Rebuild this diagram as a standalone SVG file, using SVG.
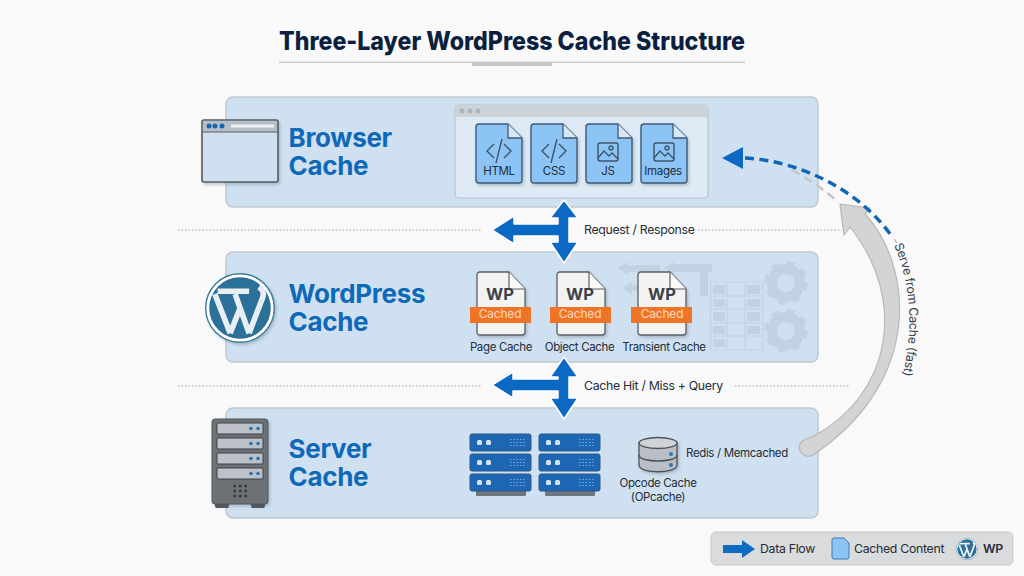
<svg xmlns="http://www.w3.org/2000/svg" width="1024" height="576" viewBox="0 0 1024 576">
<style>
text{font-family:"Inter","Liberation Sans",sans-serif;fill:#262d36}
.band{fill:#cfe1f1;stroke:#bfc8d0;stroke-width:1.5}
.h{font-size:26px;font-weight:700;fill:#0f69b8;letter-spacing:-.3px}
.dot{fill:none;stroke:#bcc0c4;stroke-width:1.3;stroke-dasharray:1.5 2}
.lab{font-size:11.5px;letter-spacing:-.35px}
.lab2{font-size:12.3px;letter-spacing:-.3px}
.file{fill:#8cc4f5;stroke:#3f5a75;stroke-width:1.4;stroke-linejoin:round}
.code{fill:none;stroke:#3f5468;stroke-width:1.4}
.ft{font-size:11.5px;letter-spacing:-.3px;text-anchor:middle;fill:#1f2c3a}
.wpd{fill:#f3f3f1;stroke:#5a5f66;stroke-width:1.3;stroke-linejoin:round}
.wpt{font-size:16.5px;font-weight:700;text-anchor:middle;fill:#3c4148}
.org{fill:#f07427}
.ct{font-size:12px;letter-spacing:-.2px;text-anchor:middle;fill:#fbd9c0}
.ar{fill:#0b69c4;stroke:#fff;stroke-width:1.5;stroke-linejoin:round}
.gh{fill:#c1d3e3}
.ghl{fill:none;stroke:#c1d3e3;stroke-width:1.2}
.gear{fill:none;stroke:#c1d3e3}
.rk{fill:#1c66b4;stroke:#2d5688;stroke-width:1}
</style>
<defs>
<filter id="sh" x="-20%" y="-20%" width="150%" height="150%"><feDropShadow dx="1.5" dy="2" stdDeviation="1.5" flood-color="#5a6a78" flood-opacity=".35"/></filter>
<symbol id="wp" viewBox="-50 -50 100 100" overflow="visible">
<circle r="49" fill="#fff" stroke="#3d7a9c" stroke-width="2"/>
<circle r="44" fill="#2a7098"/>
<path d="M-36-20-14 36M-32-24-8-24M-7-20 13 36M-12-24 13-24M-14 36 1-2M13 36 32-14Q36-24 27-30" fill="none" stroke="#e8eef2" stroke-width="8"/>
</symbol>
<g id="doc"><path class="file" d="M3 0H32L46 14V56Q46 59 43 59H3Q0 59 0 56V3Q0 0 3 0Z" filter="url(#sh)"/><path d="M32 0V14H46" fill="#d6e8f8" stroke="#3f5a75" stroke-width="1.3"/></g>
<g id="wpdoc"><path class="wpd" d="M3 0H32L48 17V60Q48 63 45 63H3Q0 63 0 60V3Q0 0 3 0Z" filter="url(#sh)"/><path d="M32 0V17H48" fill="#fafafa" stroke="#5a5f66" stroke-width="1.2"/><rect class="org" x="-7" y="35" width="61" height="16"/></g>
<g id="code"><path class="code" d="M-5-7-12 0-5 7M5-7 12 0 5 7M3-12-3 12"/></g>
<g id="img"><rect class="code" x="-10" y="-9" width="20" height="18" rx="2"/><path class="code" d="M-10 6-4-1 1 4 4 1 10 7"/><circle class="code" cx="3" cy="-4" r="2"/></g>
<g id="rack"><rect x="6" y="56" width="50" height="6" rx="1" fill="#6f767d"/><g id="row"><rect class="rk" width="61" height="17" rx="2"/><rect x="7" y="6" width="5" height="5" rx="1.5" fill="#d7e4ef"/><rect x="16" y="6" width="5" height="5" rx="1.5" fill="#d7e4ef"/><path d="M40 5.500H56M40 8.500H56M40 11.500H56" stroke="#7fa9d6" stroke-width="1" stroke-dasharray="1.500 1.800"/></g><use href="#row" y="20"/><use href="#row" y="40"/></g>
<g id="slot"><rect width="46" height="11" rx="1" fill="#bcc2c8" stroke="#3c4248" stroke-width="1"/><circle cx="34" cy="5.500" r="2.200" fill="#2a6ea8" stroke="#a9c6de"/><circle cx="41" cy="5.500" r="2.200" fill="#2a6ea8" stroke="#a9c6de"/></g>
<g id="gear"><circle class="gear" r="14" stroke-width="10"/><circle class="gear" r="19.500" stroke-width="5" stroke-dasharray="7.660 7.660"/></g>
</defs>
<rect width="1024" height="576" fill="#f9f9f9"/>
<g id="title">
<text x="279" y="50" style="font-size:25.500px;font-weight:800;fill:#0b1f40" textLength="466" lengthAdjust="spacingAndGlyphs">Three-Layer WordPress Cache Structure</text>
<rect x="279" y="61.500" width="466" height="1.500" fill="#cccccc"/><rect x="472" y="62" width="80" height="4" fill="#c8c8c8"/>
</g>
<g id="browser-cache">
<rect class="band" x="226" y="97" width="592" height="110" rx="7"/>
<g filter="url(#sh)"><rect x="202" y="120" width="76" height="62" rx="2" fill="#cfe1f1" stroke="#565d64" stroke-width="1.600"/><path d="M203 132V122Q203 121 204 121H276Q277 121 277 122V132Z" fill="#b6bec6"/></g>
<path d="M202.500 132H277.500" stroke="#565d64" stroke-width="1.200"/>
<circle cx="209" cy="126" r="2.500" fill="#1b66ad"/><circle cx="215" cy="126" r="2.500" fill="#1b66ad"/><circle cx="222" cy="126" r="2.500" fill="#1b66ad"/><rect x="231" y="124.500" width="43" height="3" fill="#eef1f4"/>
<text class="h" x="288.500" y="147">Browser</text><text class="h" x="288.500" y="175">Cache</text>
<rect x="455" y="105" width="253" height="93" rx="4" fill="#deeaf5" stroke="#b8c4ce" stroke-width="1.200"/>
<path d="M455 117V109Q455 105 459 105H704Q708 105 708 109V117Z" fill="#cdd3d9"/>
<circle cx="462" cy="111" r="2.500" fill="#adb4bb"/><circle cx="470" cy="111" r="2.500" fill="#adb4bb"/><circle cx="478" cy="111" r="2.500" fill="#adb4bb"/>
<use href="#doc" x="476" y="124"/><use href="#code" x="499" y="151"/><text class="ft" x="499" y="175">HTML</text>
<use href="#doc" x="531" y="124"/><use href="#code" x="554" y="151"/><text class="ft" x="554" y="175">CSS</text>
<use href="#doc" x="586" y="124"/><use href="#img" x="608" y="152"/><text class="ft" x="608" y="175">JS</text>
<use href="#doc" x="641" y="124"/><use href="#img" x="664" y="152"/><text class="ft" x="663" y="175">Images</text>
</g>
<g id="wordpress-cache">
<rect class="band" x="226" y="252" width="592" height="110" rx="7"/>
<g id="ghost">
<path class="gh" d="M618 268 628 262V265H660V272H628V275ZM664 268 674 262V264H712V272H674V275ZM623 288 632 282V285H650V291H632V295Z"/>
<path class="gh" d="M700 272H708V296H700Z"/>
<g class="ghl"><path d="M710.500 282H763V350H710.500ZM710.500 296H763M710.500 309H763M710.500 323H763M710.500 336H763M727 282V350M745 282V350"/></g>
<path class="gh" d="M713 285h12v9h-12zM713 299h12v8h-12zM713 312h12v9h-12zM713 326h12v8h-12zM713 339h12v8h-12zM747 285h13v9h-13zM747 299h13v8h-13zM747 312h13v9h-13zM747 326h13v8h-13z"/>
<use href="#gear" x="786" y="283"/><use href="#gear" x="786" y="331"/>
</g>
<use href="#wp" x="205" y="273" width="70" height="70" filter="url(#sh)"/>
<text class="h" x="288.500" y="303">WordPress</text><text class="h" x="288.500" y="331">Cache</text>
<use href="#wpdoc" x="477" y="272"/><text class="wpt" x="500" y="300">WP</text><text class="ct" x="500" y="318">Cached</text><text class="lab" x="501" y="351" text-anchor="middle">Page Cache</text>
<use href="#wpdoc" x="557" y="272"/><text class="wpt" x="580" y="300">WP</text><text class="ct" x="580" y="318">Cached</text><text class="lab" x="579.500" y="351" text-anchor="middle">Object Cache</text>
<use href="#wpdoc" x="638" y="272"/><text class="wpt" x="662" y="300">WP</text><text class="ct" x="662" y="318">Cached</text><text class="lab" x="664" y="351" text-anchor="middle">Transient Cache</text>
</g>
<g id="server-cache">
<rect class="band" x="226" y="408" width="592" height="110" rx="7"/>
<path d="M215 503h14v3q0 2-2 2h-10q-2 0-2-2zM251 503h14v3q0 2-2 2h-10q-2 0-2-2z" fill="#4e5358"/>
<rect x="212" y="419" width="56" height="85" rx="3" fill="#6c7176" stroke="#50555a" filter="url(#sh)"/>
<use href="#slot" x="217" y="423"/><use href="#slot" x="217" y="438"/><use href="#slot" x="217" y="453"/><use href="#slot" x="217" y="468"/>
<path d="M233.500 486H247M233.500 491H247M233.500 496H247" stroke="#34383c" stroke-width="2.600" stroke-dasharray="2.500 3"/>
<text class="h" x="288.500" y="458">Server</text><text class="h" x="288.500" y="486">Cache</text>
<use href="#rack" x="470" y="434"/><use href="#rack" x="539" y="434"/>
<g filter="url(#sh)"><path d="M639 443V465C639 474 677 474 677 465V443Z" fill="#b9bfc5" stroke="#4d5359" stroke-width="1.300"/><ellipse cx="658" cy="443" rx="19" ry="5.500" fill="#cfd4d9" stroke="#4d5359" stroke-width="1.300"/></g>
<path d="M639 455C639 463 677 463 677 455" fill="none" stroke="#4d5359" stroke-width="1.300"/>
<circle cx="671" cy="454" r="2" fill="#2a78b8"/><circle cx="671" cy="465" r="2" fill="#2a78b8"/>
<text class="lab" x="686" y="457">Redis / Memcached</text>
<text class="lab" x="658" y="487" text-anchor="middle">Opcode Cache</text><text class="lab" x="658" y="501" text-anchor="middle">(OPcache)</text>
</g>
<g id="connectors">
<path class="dot" d="M178 230H482M698 230H842M178 386H482M735 386H850"/>
<path class="ar" d="M492 230 514 216V224H558V218H550L564 200 578 218H569V242H578L564 263 550 242H558V236H514V244Z"/>
<path class="ar" d="M492 385 513 372V379H558V377H550L564 357 578 377H569V398H578L564 419 550 398H558V391H513V398Z"/>
<path d="M792 170Q818 184 838 202" fill="none" stroke="#c4c6c8" stroke-width="2.500" stroke-dasharray="9 5"/>
<path d="M840 204 870 208 865 214C912 265 925 380 813 455 806 459 797 452 800 444 803 438 808 439 812 437 892 395 908 300 850 227L844 235Z" fill="#d4d4d4" stroke="#b5b8ba" stroke-width="1.200" stroke-linejoin="round"/>
<path d="M745 158C800 161 860 190 893 238" fill="none" stroke="#0f66b4" stroke-width="3.500" stroke-dasharray="9 5.500"/>
<path d="M722 158 743 147V169Z" fill="#0b69c4"/>
<path d="M894.500 239 896.500 243" stroke="#9aa0a6" stroke-width="1"/>
<path id="servePath" d="M894 245Q922 310 899 390" fill="none"/>
<text class="lab2" style="fill:#3a4048"><textPath href="#servePath">Serve from Cache (fast)</textPath></text>
<text class="lab2" x="584" y="234">Request / Response</text>
<text class="lab2" x="584" y="390">Cache Hit / Miss + Query</text>
</g>
<g id="legend">
<rect x="711" y="532" width="302" height="33" rx="5" fill="#d9dbdd" stroke="#c8cacc"/>
<path d="M723 545H742V540L755 549 742 558V553H723Z" fill="#0f6cc2"/>
<text class="lab2" x="760" y="553">Data Flow</text>
<path d="M834 538H844L849 543V557Q849 559 847 559H834Q832 559 832 557V540Q832 538 834 538Z" fill="#8cc4f5" stroke="#3f7ab0"/>
<text class="lab2" x="854" y="553">Cached Content</text>
<use href="#wp" x="956" y="538" width="22" height="22"/>
<text class="lab2" x="983" y="553" style="font-weight:600">WP</text>
</g>
</svg>
